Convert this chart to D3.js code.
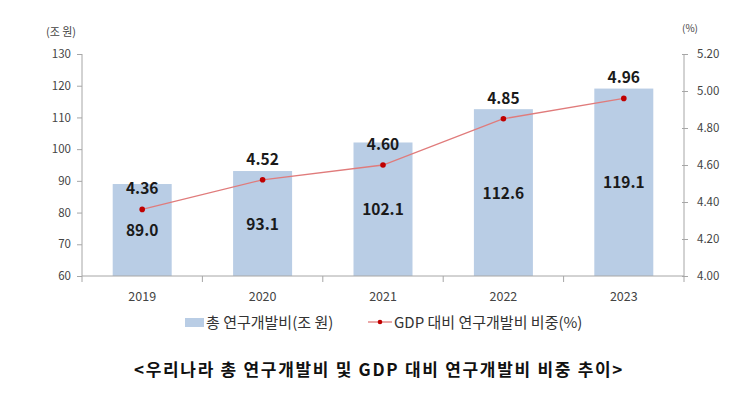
<!DOCTYPE html>
<html><head><meta charset="utf-8">
<script src="https://cdn.jsdelivr.net/npm/d3@7"></script>
<style>
html,body{margin:0;padding:0;background:#fff;}
text{font-family:"Noto Sans CJK KR","Noto Sans",sans-serif;}
</style></head>
<body><svg id="c" width="745" height="411"></svg>
<script>
const years = ["2019","2020","2021","2022","2023"];
const rndTotal = [89.0, 93.1, 102.1, 112.6, 119.1];
const gdpRatio = [4.36, 4.52, 4.60, 4.85, 4.96];
const leftTicks = [60,70,80,90,100,110,120,130];
const rightTicks = [4.00,4.20,4.40,4.60,4.80,5.00,5.20];
const legendLabels = ["총 연구개발비(조 원)", "GDP 대비 연구개발비 비중(%)"];
const title = "<우리나라 총 연구개발비 및 GDP 대비 연구개발비 비중 추이>";

const svg = d3.select("#c");
const L = 82, R = 684, T = 54, B = 276;
const x = d3.scaleBand().domain(years).range([L, R]).paddingInner(0.51).paddingOuter(0.255);
const xb = d3.scaleBand().domain(years).range([L, R]);
const yL = d3.scaleLinear().domain([60,130]).range([B, T]);
const yR = d3.scaleLinear().domain([4.0,5.2]).range([B, T]);
const axisCol = "#a6a6a6", tickTxt = "#444";

// bars
svg.selectAll("rect.bar").data(years).enter().append("rect")
  .attr("x", d => x(d)).attr("width", x.bandwidth())
  .attr("y", (d,i) => yL(rndTotal[i])).attr("height", (d,i) => B - yL(rndTotal[i]))
  .attr("fill", "#b9cde5");

// left axis
const gl = svg.append("g").attr("transform", `translate(${L},0)`)
  .call(d3.axisLeft(yL).tickValues(leftTicks).tickSize(5).tickPadding(6));
// right axis
const gr = svg.append("g").attr("transform", `translate(${R},0)`)
  .call(d3.axisRight(yR).tickValues(rightTicks).tickFormat(d3.format(".2f")).tickSize(4).tickPadding(9));
gr.selectAll(".tick line").attr("x1", -2);
// x axis
const gx = svg.append("g").attr("transform", `translate(0,${B})`)
  .call(d3.axisBottom(xb).tickSize(0).tickPadding(16));
[gl, gr, gx].forEach(g => {
  g.select(".domain").attr("stroke", axisCol);
  g.selectAll(".tick line").attr("stroke", axisCol);
  g.selectAll(".tick text").attr("fill", tickTxt).style("font-size", "11.5px")
    .style("font-family", "'Noto Sans CJK KR','Noto Sans',sans-serif");
});
gx.selectAll(".tick text").style("font-size", "12.5px");
gl.select(".domain").attr("d", `M0,${T}V${B}`);
gr.select(".domain").attr("d", `M0,${T}V${B}`);
gx.select(".domain").attr("d", `M${L},0H${R}`);
// category boundary ticks
const bounds = years.map(d => xb(d)).concat([R]);
svg.selectAll("line.bt").data(bounds).enter().append("line")
  .attr("x1", d => d).attr("x2", d => d).attr("y1", B).attr("y2", B + 6)
  .attr("stroke", axisCol);

// unit labels
svg.append("text").attr("x", 61).attr("y", 36).attr("text-anchor", "middle")
  .attr("fill", tickTxt).style("font-size", "11px").text("(조 원)");
svg.append("text").attr("x", 690).attr("y", 32).attr("text-anchor", "middle")
  .attr("fill", tickTxt).style("font-size", "10px").text("(%)");

// line
const cx = d => x(d) + x.bandwidth()/2;
const line = d3.line().x((d,i) => cx(years[i])).y(d => yR(d));
svg.append("path").datum(gdpRatio).attr("d", line)
  .attr("fill", "none").attr("stroke", "#e07b7b").attr("stroke-width", 1.3);
svg.selectAll("circle.pt").data(gdpRatio).enter().append("circle")
  .attr("cx", (d,i) => cx(years[i])).attr("cy", d => yR(d)).attr("r", 2.8)
  .attr("fill", "#c00000");

// value labels
svg.selectAll("text.pl").data(gdpRatio).enter().append("text")
  .attr("x", (d,i) => cx(years[i])).attr("y", d => yR(d) - 15)
  .attr("text-anchor", "middle").attr("fill", "#1a1a1a")
  .style("font-size", "15.5px").style("font-weight", "bold")
  .text(d => d.toFixed(2));
svg.selectAll("text.bl").data(rndTotal).enter().append("text")
  .attr("x", (d,i) => cx(years[i])).attr("y", d => (yL(d) + B)/2 + 6)
  .attr("text-anchor", "middle").attr("fill", "#1a1a1a")
  .style("font-size", "15.5px").style("font-weight", "bold")
  .text(d => d.toFixed(1));

// legend
const lg = svg.append("g");
lg.append("rect").attr("x", 185).attr("y", 318).attr("width", 19).attr("height", 9).attr("fill", "#b9cde5");
lg.append("text").attr("x", 206).attr("y", 328).attr("fill", "#333").style("font-size", "15px").text(legendLabels[0]);
lg.append("line").attr("x1", 368).attr("x2", 392).attr("y1", 322).attr("y2", 322).attr("stroke", "#e07b7b").attr("stroke-width", 1.3);
lg.append("circle").attr("cx", 380).attr("cy", 322).attr("r", 2.3).attr("fill", "#c00000");
lg.append("text").attr("x", 394).attr("y", 328).attr("fill", "#333").style("font-size", "15px").text(legendLabels[1]);

// title
svg.append("text").attr("x", 379).attr("y", 376).attr("text-anchor", "middle")
  .attr("fill", "#111").style("font-size", "17px").style("font-weight", "bold")
  .style("letter-spacing", "1.7px")
  .text(title);
</script></body></html>
